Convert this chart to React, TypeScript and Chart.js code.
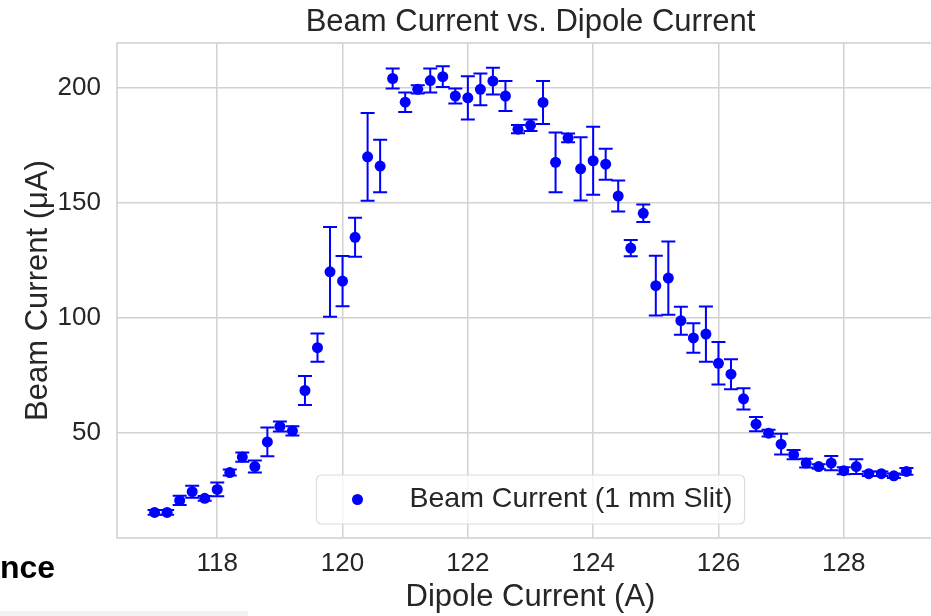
import React, { useEffect, useRef } from "react";
import { Chart, registerables } from "chart.js";

Chart.register(...registerables);

const chartTitle = "Beam Current vs. Dipole Current";
const xTitle = "Dipole Current (A)";
const yTitle = "Beam Current (μA)";
const seriesLabel = "Beam Current (1 mm Slit)";

const dipoleCurrent = [
  117.0, 117.2, 117.4, 117.6, 117.8, 118.0, 118.2, 118.4, 118.6, 118.8,
  119.0, 119.2, 119.4, 119.6, 119.8, 120.0, 120.2, 120.4, 120.6, 120.8,
  121.0, 121.2, 121.4, 121.6, 121.8, 122.0, 122.2, 122.4, 122.6, 122.8,
  123.0, 123.2, 123.4, 123.6, 123.8, 124.0, 124.2, 124.4, 124.6, 124.8,
  125.0, 125.2, 125.4, 125.6, 125.8, 126.0, 126.2, 126.4, 126.6, 126.8,
  127.0, 127.2, 127.4, 127.6, 127.8, 128.0, 128.2, 128.4, 128.6, 128.8,
  129.0,
];

const beamCurrent = [
  15.6, 15.6, 20.8, 24.6, 21.7, 25.6, 32.9, 39.6, 35.5, 46.2,
  52.9, 51.0, 68.5, 87.1, 120.0, 116.0, 135.0, 169.9, 165.9, 203.9,
  193.6, 199.2, 203.0, 204.7, 196.3, 195.5, 199.2, 202.8, 196.3, 181.9,
  183.6, 193.5, 167.5, 178.1, 164.7, 168.2, 166.7, 152.9, 130.3, 145.4,
  114.0, 117.3, 98.8, 91.3, 93.0, 80.3, 75.6, 64.9, 53.9, 50.0,
  45.2, 40.7, 37.0, 35.5, 37.0, 33.7, 35.5, 32.4, 32.4, 31.5,
  33.4,
];

const beamError = [
  1.0, 1.0, 2.0, 2.6, 1.0, 3.0, 1.3, 2.0, 2.6, 6.2,
  2.2, 2.0, 6.3, 6.1, 19.5, 10.9, 8.5, 19.0, 11.4, 4.3,
  4.2, 1.8, 5.2, 4.5, 3.3, 9.4, 6.9, 5.8, 6.5, 1.8,
  2.5, 9.3, 13.0, 1.9, 13.7, 14.8, 6.7, 6.7, 3.5, 3.8,
  13.0, 15.9, 6.1, 6.4, 12.0, 9.2, 6.5, 4.6, 3.1, 1.5,
  4.5, 2.0, 1.9, 1.0, 3.1, 1.5, 3.2, 1.0, 1.0, 1.0,
  1.5,
];

const xTicks = [118, 120, 122, 124, 126, 128];
const yTicks = [50, 100, 150, 200];
const xRange = [116.4, 129.6];
const yRange = [4.5, 219.3];

const FONT = "'Liberation Sans', Arial, sans-serif";
const TEXT = "#262626";
const GRID = "#d2d2d2";
const BLUE = "#0000ff";

export default function App() {
  const ref = useRef<HTMLCanvasElement>(null);

  useEffect(() => {
    if (!ref.current) return;

    const errorBars = {
      id: "errorBars",
      beforeDatasetsDraw(chart: any) {
        const { ctx, chartArea } = chart;
        const x = chart.scales.x;
        const y = chart.scales.y;
        ctx.save();
        ctx.strokeStyle = GRID;
        ctx.lineWidth = 1.6;
        ctx.strokeRect(
          chartArea.left,
          chartArea.top,
          chartArea.right - chartArea.left,
          chartArea.bottom - chartArea.top
        );
        ctx.strokeStyle = BLUE;
        ctx.lineWidth = 2;
        const cap = 7;
        dipoleCurrent.forEach((xv, i) => {
          const px = x.getPixelForValue(xv);
          const top = y.getPixelForValue(beamCurrent[i] + beamError[i]);
          const bot = y.getPixelForValue(beamCurrent[i] - beamError[i]);
          ctx.beginPath();
          ctx.moveTo(px, top);
          ctx.lineTo(px, bot);
          ctx.moveTo(px - cap, top);
          ctx.lineTo(px + cap, top);
          ctx.moveTo(px - cap, bot);
          ctx.lineTo(px + cap, bot);
          ctx.stroke();
        });
        ctx.restore();
      },
    };

    const legendBox = {
      id: "legendBox",
      afterDraw(chart: any) {
        const { ctx, chartArea } = chart;
        ctx.save();
        ctx.font = `28.5px ${FONT}`;
        const tw = ctx.measureText(seriesLabel).width;
        const padL = 41;
        const gap = 52;
        const padR = 12;
        const w = padL + gap + tw + padR;
        const h = 49;
        const cx = (chartArea.left + chartArea.right) / 2;
        const left = cx - w / 2;
        const bottom = chartArea.bottom - 14;
        const top = bottom - h;
        const r = 5;
        ctx.beginPath();
        ctx.moveTo(left + r, top);
        ctx.lineTo(left + w - r, top);
        ctx.arcTo(left + w, top, left + w, top + r, r);
        ctx.lineTo(left + w, bottom - r);
        ctx.arcTo(left + w, bottom, left + w - r, bottom, r);
        ctx.lineTo(left + r, bottom);
        ctx.arcTo(left, bottom, left, bottom - r, r);
        ctx.lineTo(left, top + r);
        ctx.arcTo(left, top, left + r, top, r);
        ctx.closePath();
        ctx.fillStyle = "rgba(255,255,255,0.8)";
        ctx.fill();
        ctx.strokeStyle = "#dcdcdc";
        ctx.lineWidth = 1.2;
        ctx.stroke();
        const cy = top + h / 2;
        ctx.fillStyle = BLUE;
        ctx.beginPath();
        ctx.arc(left + padL, cy, 5.5, 0, Math.PI * 2);
        ctx.fill();
        ctx.fillStyle = TEXT;
        ctx.textBaseline = "middle";
        ctx.textAlign = "left";
        ctx.fillText(seriesLabel, left + padL + gap, cy);
        ctx.restore();
      },
    };

    const chart = new Chart(ref.current, {
      type: "scatter",
      data: {
        datasets: [
          {
            label: seriesLabel,
            data: dipoleCurrent.map((xv, i) => ({ x: xv, y: beamCurrent[i] })),
            backgroundColor: BLUE,
            borderColor: BLUE,
            borderWidth: 0,
            pointRadius: 5.5,
          },
        ],
      },
      options: {
        responsive: false,
        maintainAspectRatio: false,
        animation: false,
        events: [],
        layout: { padding: 0 },
        plugins: {
          legend: { display: false },
          tooltip: { enabled: false },
          title: {
            display: true,
            text: chartTitle,
            color: TEXT,
            font: { family: FONT, size: 31, weight: "normal", lineHeight: 1.2 },
            padding: { top: 3.4, bottom: 2.4 },
          },
        },
        scales: {
          x: {
            type: "linear",
            min: xRange[0],
            max: xRange[1],
            afterBuildTicks: (scale: any) => {
              scale.ticks = xTicks.map((v) => ({ value: v }));
            },
            afterFit: (scale: any) => {
              scale.height = 78;
            },
            ticks: {
              color: TEXT,
              font: { family: FONT, size: 26 },
              padding: 10,
              maxRotation: 0,
              callback: (v: any) => String(v),
            },
            grid: { color: GRID, lineWidth: 1.5, drawTicks: false },
            border: { display: false },
            title: {
              display: true,
              text: xTitle,
              color: TEXT,
              font: { family: FONT, size: 31, lineHeight: 1.2 },
              padding: { top: 0, bottom: 0.4 },
            },
          },
          y: {
            type: "linear",
            min: yRange[0],
            max: yRange[1],
            afterBuildTicks: (scale: any) => {
              scale.ticks = yTicks.map((v) => ({ value: v }));
            },
            afterFit: (scale: any) => {
              scale.width = 117;
            },
            ticks: {
              color: TEXT,
              font: { family: FONT, size: 26 },
              padding: 16,
              callback: (v: any) => String(v),
            },
            grid: { color: GRID, lineWidth: 1.5, drawTicks: false },
            border: { display: false },
            title: {
              display: true,
              text: yTitle,
              color: TEXT,
              font: { family: FONT, size: 31, lineHeight: 1.2 },
              padding: { top: 19.4, bottom: 0 },
            },
          },
          yRightSpace: {
            type: "linear",
            position: "right",
            min: yRange[0],
            max: yRange[1],
            display: true,
            ticks: { display: false },
            grid: { display: false, drawTicks: false },
            border: { display: false },
            title: { display: false },
            afterFit: (scale: any) => {
              scale.width = 117;
            },
          },
        },
      },
      plugins: [errorBars, legendBox],
    });

    return () => chart.destroy();
  }, []);

  return (
    <div
      style={{
        position: "absolute",
        left: 0,
        top: 0,
        width: 931,
        height: 616,
        overflow: "hidden",
        background: "#ffffff",
      }}
    >
      <canvas ref={ref} width={1061} height={616} style={{ display: "block" }} />
      <div
        style={{
          position: "absolute",
          left: 0,
          top: 551,
          fontFamily: FONT,
          fontWeight: "bold",
          fontSize: 32,
          lineHeight: "32px",
          color: "#000000",
          whiteSpace: "nowrap",
        }}
      >
        nce
      </div>
      <div
        style={{
          position: "absolute",
          left: 0,
          top: 611,
          width: 248,
          height: 5,
          background: "#f2f2f2",
        }}
      />
    </div>
  );
}
